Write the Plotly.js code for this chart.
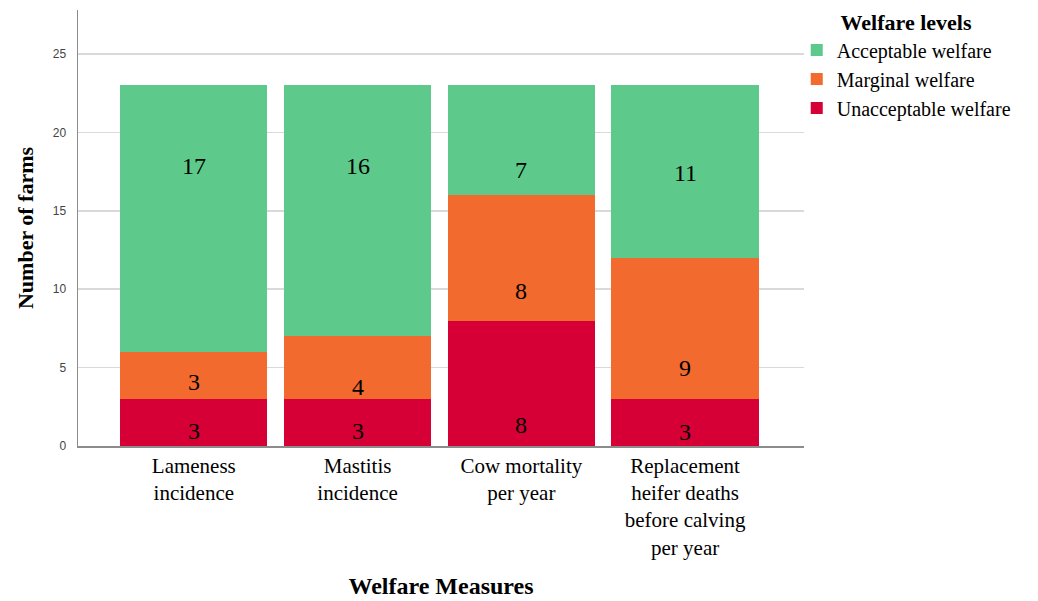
<!DOCTYPE html>
<html>
<head>
<meta charset="utf-8">
<script src="https://cdn.plot.ly/plotly-3.0.1.min.js"></script>
<style>
  html, body { margin: 0; padding: 0; background: #fff; }
  #chart { width: 1038px; height: 601px; }
</style>
</head>
<body>
<div id="chart"></div>
<script>
// ---- data ----
const categories = [
  "Lameness<br>incidence",
  "Mastitis<br>incidence",
  "Cow mortality<br>per year",
  "Replacement<br>heifer deaths<br>before calving<br>per year"
];
const unacceptable = [3, 3, 8, 3];
const marginal = [3, 4, 8, 9];
const acceptable = [17, 16, 7, 11];
const seriesNames = ["Unacceptable welfare", "Marginal welfare", "Acceptable welfare"];
const yTicks = [0, 5, 10, 15, 20, 25];

// ---- styling ----
const colors = ["#D60036", "#F26A2D", "#5DCA8B"];
const serif = "Liberation Serif, Times New Roman, serif";
const xIdx = categories.map((c, i) => i);

const seriesVals = [unacceptable, marginal, acceptable];
const traces = seriesVals.map((vals, s) => ({
  type: "bar",
  x: xIdx,
  y: vals,
  name: seriesNames[s],
  marker: { color: colors[s], line: { width: 0 } },
  hoverinfo: "y+name"
}));

// label placement (SPSS-like, within each segment)
const labelPlace = [
  [0.96, 0.96, 1.34, 0.9],
  [4.1, 3.75, 9.9, 5.0],
  [17.85, 17.85, 17.6, 17.4]
];
const annotations = [];
seriesVals.forEach((vals, s) => {
  vals.forEach((v, i) => {
    annotations.push({
      x: xIdx[i], y: labelPlace[s][i], xref: "x", yref: "y",
      text: String(v), showarrow: false,
      font: { family: serif, size: 24, color: "#000" }
    });
  });
});

const layout = {
  width: 1038, height: 601,
  margin: { l: 78, r: 234, t: 10, b: 155, pad: 0, autoexpand: false },
  paper_bgcolor: "#fff", plot_bgcolor: "#fff",
  barmode: "stack",
  bargap: 0.1,
  showlegend: true,
  legend: {
    x: 0.99, xanchor: "left",
    yref: "container", y: 0.997, yanchor: "top",
    traceorder: "reversed",
    title: { text: "<b>Welfare levels</b>", side: "top center", font: { family: serif, size: 22, color: "#000" } },
    font: { family: serif, size: 20, color: "#000" },
    itemwidth: 30,
    tracegroupgap: 0,
    bgcolor: "rgba(0,0,0,0)"
  },
  xaxis: {
    tickmode: "array", tickvals: xIdx, ticktext: categories,
    range: [-0.707, 3.726],
    showline: true, linecolor: "#8c8c8c", linewidth: 1.5,
    ticks: "", showgrid: false, zeroline: false,
    tickfont: { family: serif, size: 21, color: "#000" },
    title: { text: "<b>Welfare Measures</b>", font: { family: serif, size: 24, color: "#000" }, standoff: 18 }
  },
  yaxis: {
    range: [0, 27.8],
    tickmode: "array", tickvals: yTicks,
    showline: true, linecolor: "#8c8c8c", linewidth: 1.5,
    ticks: "", ticklabelstandoff: 8,
    showgrid: true, gridcolor: "#d9d9d9", gridwidth: 1.5,
    zeroline: false,
    tickfont: { family: "Liberation Sans, Arial, sans-serif", size: 12, color: "#444" },
    title: { text: "<b>Number of farms</b>", font: { family: serif, size: 22, color: "#000" }, standoff: 13 }
  },
  annotations: annotations
};

Plotly.newPlot("chart", traces, layout, { displayModeBar: false, staticPlot: true });
</script>
</body>
</html>
